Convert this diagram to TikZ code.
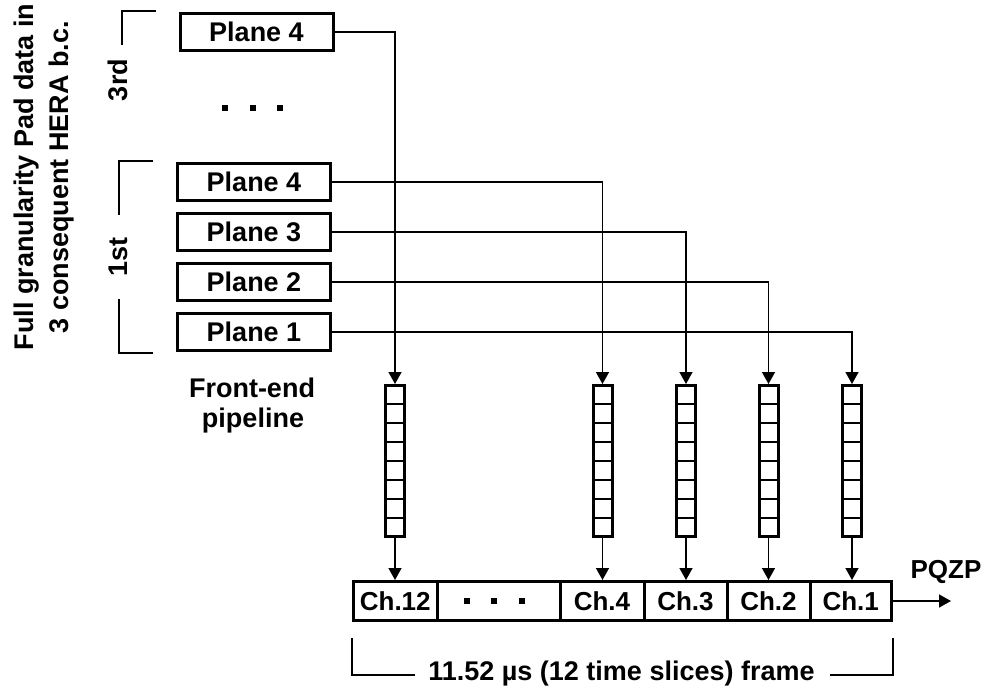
\documentclass[tikz,border=0pt]{standalone}
\usepackage{fontspec}
\setmainfont{Liberation Sans}
\usetikzlibrary{arrows.meta}
\begin{document}
\begin{tikzpicture}[x=1pt,y=-1pt,
  txt/.style={font=\bfseries\fontsize{27}{35}\selectfont, inner sep=0pt},
  chtxt/.style={font=\bfseries\fontsize{26}{30}\selectfont},
  plane/.style={draw, line width=3pt, minimum width=153pt, minimum height=37pt, inner sep=0pt, txt},
  pipe/.style={draw, line width=3pt, minimum width=19pt, minimum height=151pt, inner sep=0pt},
  chcell/.style={draw, line width=3pt, minimum height=39pt, inner sep=0pt, chtxt},
  conn/.style={line width=1.5pt, -{Triangle[width=13pt,length=12pt]}},
  brk/.style={line width=1.5pt},
  dot/.style={fill=black, draw=none, inner sep=0pt}
]
\useasboundingbox (0,0) rectangle (986,690);
\fill[white] (0,0) rectangle (986,690);

% rotated side labels
\node[txt, rotate=90, align=center] (side) at (44.5,177) {Full granularity Pad data in\\3 consequent HERA b.c.};
\node[txt, rotate=90] (third) at (118,80) {3rd};
\node[txt, rotate=90] (first) at (118,257) {1st};

% brackets
\draw[brk] (156,11) -- (122,11) -- (122,45);
\draw[brk] (153,161) -- (119,161) -- (119,215);
\draw[brk] (119,299) -- (119,353) -- (153,353);

% plane boxes
\node[plane] (p4c) at (256.5,32) {Plane 4};
\node[plane] (p4) at (254,182) {Plane 4};
\node[plane] (p3) at (254,232) {Plane 3};
\node[plane] (p2) at (254,282) {Plane 2};
\node[plane] (p1) at (254,332) {Plane 1};

% dots between plane groups
\foreach \xx/\nm in {225/a,253/b,280/c}
  \node[dot, minimum size=6.5pt] (ud\nm) at (\xx,108) {};

% front-end label
\node[txt, anchor=base] (fe1) at (252,397) {Front-end};
\node[txt, anchor=base] (fe2) at (253,427) {pipeline};

% pipelines
\foreach \xx/\nm in {395/k12,602.5/k4,686/k3,768.5/k2,852/k1}{
  \node[pipe] (pipe\nm) at (\xx,461) {};
  \foreach \k in {1,...,7}
    \draw[line width=2pt] ([xshift=-9.5pt]\xx,385.5+\k*18.875) -- ([xshift=9.5pt]\xx,385.5+\k*18.875);
}

% channel frame
\node[chcell, minimum width=83.5pt] (c12) at (395.25,601) {Ch.12};
\node[chcell, minimum width=123pt] (cdots) at (498.5,601) {};
\node[chcell, minimum width=84pt] (c4) at (602,601) {Ch.4};
\node[chcell, minimum width=83pt] (c3) at (685.5,601) {Ch.3};
\node[chcell, minimum width=83pt] (c2) at (768.5,601) {Ch.2};
\node[chcell, minimum width=81.5pt] (c1) at (850.75,601) {Ch.1};
\foreach \xx/\nm in {467/a,494/b,522/c}
  \node[dot, minimum size=5.5pt] (ld\nm) at (\xx,601) {};

% connectors planes -> pipelines
\draw[conn] (p4c.east) -| (pipek12.north);
\draw[conn] (p4.east) -| (pipek4.north);
\draw[conn] (p3.east) -| (pipek3.north);
\draw[conn] (p2.east) -| (pipek2.north);
\draw[conn] (p1.east) -| (pipek1.north);

% pipelines -> channels
\draw[conn] (pipek12.south) -- (pipek12.south |- c12.north);
\draw[conn] (pipek4.south) -- (pipek4.south |- c4.north);
\draw[conn] (pipek3.south) -- (pipek3.south |- c3.north);
\draw[conn] (pipek2.south) -- (pipek2.south |- c2.north);
\draw[conn] (pipek1.south) -- (pipek1.south |- c1.north);

% output
\coordinate (outp) at (951,601);
\draw[conn] (c1.east) -- (outp);
\node[chtxt, anchor=base, inner sep=0pt] (pqzp) at (946,578) {PQZP};

% frame bracket
\node[txt, anchor=base] (frm) at (621.5,680) {11.52 µs (12 time slices) frame};
\draw[brk] (415,675) -- (352,675) -- (352,638);
\draw[brk] (830,675) -- (893,675) -- (893,638);
\end{tikzpicture}
\end{document}
